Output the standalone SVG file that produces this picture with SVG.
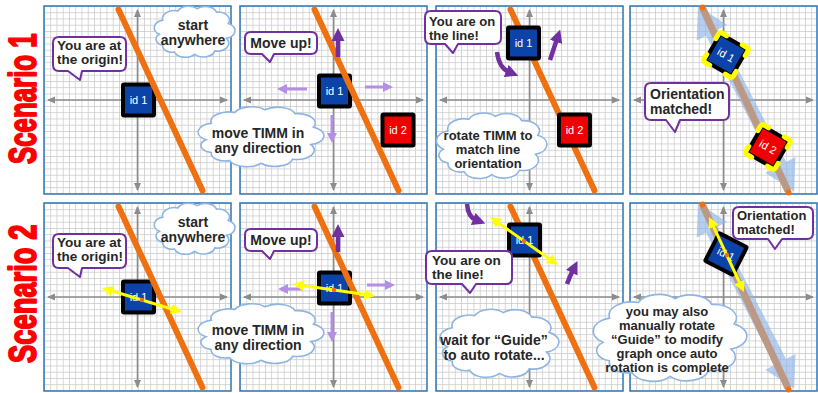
<svg xmlns="http://www.w3.org/2000/svg" width="818" height="393" viewBox="0 0 818 393">
<defs>
<style>
.lbl{font-family:"Liberation Sans",Arial,sans-serif;font-weight:bold;font-size:13.5px;fill:#262626}
.big{font-size:14px}
.sm{font-size:13px}
.mid{text-anchor:middle}
.idt{font-family:"Liberation Sans",Arial,sans-serif;font-size:11px;fill:#fff;text-anchor:middle}
.scn{font-family:"Liberation Sans",Arial,sans-serif;font-weight:bold;font-size:38px;fill:#FF0000;stroke:#FF0000;stroke-width:1.9;stroke-linejoin:round}
.frame{fill:none;stroke:#2E75B6;stroke-width:1.5}
.axis{stroke:#8C8C8C;stroke-width:1.6;marker-start:url(#ax);marker-end:url(#ax)}
.track{stroke:#EE7010;stroke-width:6;stroke-linecap:round}
.tan{stroke:#BC9985;stroke-width:7}
.tip{fill:#EE7010}
.sweep{fill:#8FB4E6;opacity:0.65}
.bubble{fill:#fff;stroke:#7030A0;stroke-width:2;stroke-linejoin:round}
.cloud{fill:#fff;stroke:#8EB4E3;stroke-width:1.6}
.lp{stroke:#B48FE3;stroke-width:3;marker-end:url(#hlp)}
.dp{stroke:#7030A0;stroke-width:4.5;fill:none;marker-end:url(#hdp)}
.guide{stroke:#FFFF00;stroke-width:3;marker-start:url(#hy);marker-end:url(#hy)}
.pivot{fill:#EE7010}
.corner{fill:none;stroke:#FFFF00;stroke-width:5;stroke-linecap:round;stroke-linejoin:round}
</style>
<pattern id="grid" width="6.25" height="6.25" patternUnits="userSpaceOnUse">
<path d="M0,0.4H6.25M0.4,0V6.25" stroke="#C9C9C9" stroke-width="0.8" fill="none"/>
</pattern>
<marker id="ax" markerUnits="userSpaceOnUse" markerWidth="8" markerHeight="8" refX="7" refY="4" orient="auto-start-reverse"><path d="M0,0.5 L8,4 L0,7.5 z" fill="#8C8C8C"/></marker>
<marker id="hlp" markerUnits="userSpaceOnUse" markerWidth="10" markerHeight="10" refX="3" refY="5" orient="auto"><path d="M0,0 L10,5 L0,10 z" fill="#B48FE3"/></marker>
<marker id="hdp" markerUnits="userSpaceOnUse" markerWidth="13" markerHeight="13" refX="3" refY="6.5" orient="auto"><path d="M0,0 L13,6.5 L0,13 z" fill="#7030A0"/></marker>
<marker id="hy" markerUnits="userSpaceOnUse" markerWidth="11" markerHeight="11" refX="3" refY="5.5" orient="auto-start-reverse"><path d="M0,0 L11,5.5 L0,11 z" fill="#FFFF00"/></marker>
<!-- one graph tile: grid, axes, frame -->
<g id="base">
<rect width="187" height="188" fill="#fff"/>
<rect width="187" height="188" fill="url(#grid)"/>
<line class="axis" x1="4" y1="94" x2="183" y2="94"/>
<line class="axis" x1="93.5" y1="4" x2="93.5" y2="184"/>
<rect class="frame" width="187" height="188"/>
</g>
<g id="boxBlue"><rect x="-17.5" y="-17.5" width="35" height="35" rx="3" fill="#000"/><rect x="-13.5" y="-13.5" width="27" height="27" fill="#0B43A8"/><text class="idt" y="4">id 1</text></g>
<g id="boxRed"><rect x="-17.5" y="-17.5" width="35" height="35" rx="3" fill="#000"/><rect x="-13.5" y="-13.5" width="27" height="27" fill="#F00000"/><text class="idt" y="4">id 2</text></g>
<path id="corners" class="corner" d="M-17,-9V-14Q-17,-17 -14,-17H-9M9,-17H14Q17,-17 17,-14V-9M17,9V14Q17,17 14,17H9M-9,17H-14Q-17,17 -17,14V9"/>
<path id="sweepArrow" d="M0,0 L30,-17 L30,-6.5 L179,-6.5 L179,-17 L209,0 L179,17 L179,6.5 L30,6.5 L30,17 Z"/>
<path id="cloudShape" vector-effect="non-scaling-stroke" d="M10,55 A14,14 0 0 1 14,30 A14,14 0 0 1 32,14 A14,14 0 0 1 55,10 A14,14 0 0 1 78,16 A14,14 0 0 1 92,36 A14,14 0 0 1 90,62 A14,14 0 0 1 76,84 A14,14 0 0 1 52,90 A14,14 0 0 1 28,86 A11,11 0 0 1 14,74 A11,11 0 0 1 10,55 Z"/>
</defs>

<!-- row titles, condensed by a horizontal squeeze -->
<g id="titles">
<text class="scn" transform="translate(36,164) rotate(-90) scale(0.68,1)">Scenario 1</text>
<text class="scn" transform="translate(36,363) rotate(-90) scale(0.72,1)">Scenario 2</text>
</g>

<!-- tiles -->
<g id="tiles">
<use href="#base" x="44" y="6"/>
<use href="#base" x="240" y="6"/>
<use href="#base" x="436" y="6"/>
<use href="#base" x="630" y="6"/>
<use href="#base" x="44" y="203"/>
<use href="#base" x="240" y="203"/>
<use href="#base" x="436" y="203"/>
<use href="#base" x="630" y="203"/>
</g>

<!-- Scenario 1 -->
<g id="s1-step1">
<use href="#boxBlue" transform="translate(138.5,100)"/>
<line class="track" x1="118.5" y1="9.5" x2="202.5" y2="190.5"/>
</g>
<g id="s1-step2">
<use href="#boxBlue" transform="translate(334.5,91)"/>
<use href="#boxRed" transform="translate(398,130)"/>
<line class="track" x1="314.5" y1="9.5" x2="398.5" y2="190.5"/>
</g>
<g id="s1-step3">
<line class="track" x1="510.5" y1="9.5" x2="594.5" y2="190.5"/>
<use href="#boxBlue" transform="translate(523.5,43)"/>
<use href="#boxRed" transform="translate(574.5,130)"/>
</g>
<g id="s1-step4">
<use href="#sweepArrow" class="sweep" transform="translate(698,6) rotate(62.6)"/>
<line class="tan" x1="703" y1="9" x2="788" y2="191"/>
<circle class="tip" cx="702.5" cy="7.5" r="3"/>
<circle class="tip" cx="788.5" cy="192.5" r="3"/>
<g transform="translate(726,55) rotate(30)"><use href="#boxBlue"/><use href="#corners"/></g>
<g transform="translate(768,147) rotate(30)"><use href="#boxRed"/><use href="#corners"/></g>
</g>

<!-- Scenario 2 -->
<g id="s2-step1">
<use href="#boxBlue" transform="translate(138.5,297)"/>
<line class="track" x1="118.5" y1="206.5" x2="202.5" y2="387.5"/>
</g>
<g id="s2-step2">
<use href="#boxBlue" transform="translate(334.5,288)"/>
<line class="track" x1="314.5" y1="206.5" x2="398.5" y2="387.5"/>
</g>
<g id="s2-step3">
<line class="track" x1="510.5" y1="206.5" x2="594.5" y2="387.5"/>
<use href="#boxBlue" transform="translate(524.5,240)"/>
</g>
<g id="s2-step4">
<use href="#sweepArrow" class="sweep" transform="translate(698,203) rotate(62.6)"/>
<line class="tan" x1="703" y1="206" x2="788" y2="388"/>
<circle class="tip" cx="702.5" cy="204.5" r="3"/>
<circle class="tip" cx="788.5" cy="389.5" r="3"/>
<use href="#boxBlue" transform="translate(726,254) rotate(27)"/>
</g>

<!-- motion cues and guides -->
<g id="connectors">
<line class="lp" x1="307" y1="89" x2="284" y2="89"/>
<line class="lp" x1="365" y1="87" x2="386" y2="87"/>
<line class="lp" x1="332" y1="115" x2="332" y2="136"/>
<line class="dp" x1="338" y1="57" x2="338" y2="38"/>
<path class="dp" d="M497,52 Q499,68 509,72"/>
<path class="dp" d="M550,60 Q554,48 557,39"/>

<line class="lp" x1="303" y1="289" x2="285" y2="289"/>
<line class="lp" x1="367" y1="285" x2="388" y2="285"/>
<line class="lp" x1="332" y1="312" x2="332" y2="335"/>
<line class="dp" x1="338" y1="252" x2="338" y2="234"/>
<path class="dp" d="M467,204 Q468,217 476,220"/>
<path class="dp" d="M567,284 Q570,276 573,270"/>

<line class="guide" x1="109.7" y1="290.3" x2="174.3" y2="309.7"/>
<circle class="pivot" cx="142" cy="300" r="2.2"/>
<line class="guide" x1="300.9" y1="285.2" x2="367.1" y2="294.8"/>
<circle class="pivot" cx="334" cy="290" r="2.2"/>
<line class="guide" x1="496.5" y1="221.6" x2="551.5" y2="260.4"/>
<circle class="pivot" cx="524" cy="241" r="2.2"/>
<line class="guide" x1="712.4" y1="224.2" x2="740.6" y2="284.8"/>
<circle class="pivot" cx="727" cy="255" r="2.2"/>
</g>

<!-- speech bubbles -->
<g id="bubble-origin-1">
<path class="bubble" d="M59,37 H120 Q126,37 126,43 V65 Q126,71 120,71 H82 L80,80 L68,71 H59 Q53,71 53,65 V43 Q53,37 59,37 Z"/>
<text class="lbl" x="57" y="50">You are at</text>
<text class="lbl" x="57" y="64">the origin!</text>
</g>
<g id="bubble-up-1">
<path class="bubble" d="M251,32 H311 Q317,32 317,38 V48 Q317,54 311,54 H274 L270,62 L262,54 H251 Q245,54 245,48 V38 Q245,32 251,32 Z"/>
<text class="lbl big mid" x="281" y="48">Move up!</text>
</g>
<g id="bubble-online-1">
<path class="bubble" d="M431,11 H495 Q501,11 501,17 V38 Q501,44 495,44 H458 L453,53 L445,44 H431 Q425,44 425,38 V17 Q425,11 431,11 Z"/>
<text class="lbl sm" x="429" y="26">You are on</text>
<text class="lbl sm" x="429" y="40">the line!</text>
</g>
<g id="bubble-match-1">
<path class="bubble" d="M651,83 H723 Q729,83 729,89 V114 Q729,120 723,120 H680 L675,132 L666,120 H651 Q645,120 645,114 V89 Q645,83 651,83 Z"/>
<text class="lbl big" x="650" y="99">Orientation</text>
<text class="lbl big" x="650" y="114">matched!</text>
</g>
<g id="bubble-origin-2">
<path class="bubble" d="M59,234 H120 Q126,234 126,240 V262 Q126,268 120,268 H82 L80,277 L68,268 H59 Q53,268 53,262 V240 Q53,234 59,234 Z"/>
<text class="lbl" x="57" y="247">You are at</text>
<text class="lbl" x="57" y="261">the origin!</text>
</g>
<g id="bubble-up-2">
<path class="bubble" d="M251,229 H311 Q317,229 317,235 V245 Q317,251 311,251 H274 L270,259 L262,251 H251 Q245,251 245,245 V235 Q245,229 251,229 Z"/>
<text class="lbl big mid" x="281" y="245">Move up!</text>
</g>
<g id="bubble-online-2">
<path class="bubble" d="M432,251 H506 Q512,251 512,257 V278 Q512,284 506,284 H476 L470,293 L462,284 H432 Q426,284 426,278 V257 Q426,251 432,251 Z"/>
<text class="lbl" x="432" y="265">You are on</text>
<text class="lbl" x="432" y="279">the line!</text>
</g>
<g id="bubble-match-2">
<path class="bubble" d="M739,207 H807 Q813,207 813,213 V233 Q813,239 807,239 H782 L775,249 L768,239 H739 Q733,239 733,233 V213 Q733,207 739,207 Z"/>
<text class="lbl sm" x="737" y="220">Orientation</text>
<text class="lbl sm" x="737" y="234">matched!</text>
</g>

<!-- thought clouds -->
<g id="cloud-start-1">
<use href="#cloudShape" class="cloud" transform="translate(151,3) scale(0.84,0.57)"/>
<text class="lbl big mid" x="193" y="30">start</text>
<text class="lbl big mid" x="193" y="45">anywhere</text>
</g>
<g id="cloud-move-1">
<use href="#cloudShape" class="cloud" transform="translate(193,103) scale(1.31,0.67)"/>
<text class="lbl big mid" x="258" y="138">move TIMM in</text>
<text class="lbl big mid" x="258" y="153">any direction</text>
</g>
<g id="cloud-rotate-1">
<use href="#cloudShape" class="cloud" transform="translate(432,109) scale(1.15,0.73)"/>
<text class="lbl sm mid" x="488" y="140">rotate TIMM to</text>
<text class="lbl sm mid" x="488" y="154">match line</text>
<text class="lbl sm mid" x="488" y="168">orientation</text>
</g>
<g id="cloud-start-2">
<use href="#cloudShape" class="cloud" transform="translate(151,200) scale(0.84,0.57)"/>
<text class="lbl big mid" x="193" y="227">start</text>
<text class="lbl big mid" x="193" y="242">anywhere</text>
</g>
<g id="cloud-move-2">
<use href="#cloudShape" class="cloud" transform="translate(193,300) scale(1.31,0.67)"/>
<text class="lbl big mid" x="258" y="335">move TIMM in</text>
<text class="lbl big mid" x="258" y="350">any direction</text>
</g>
<g id="cloud-wait-2">
<use href="#cloudShape" class="cloud" transform="translate(435,305) scale(1.24,0.76)"/>
<text class="lbl big mid" x="494" y="345">wait for “Guide”</text>
<text class="lbl big mid" x="494" y="360">to auto rotate...</text>
</g>
<g id="cloud-manual-2">
<use href="#cloudShape" class="cloud" transform="translate(587,289) scale(1.6,0.97)"/>
<text class="lbl sm mid" x="667" y="316">you may also</text>
<text class="lbl sm mid" x="667" y="330">manually rotate</text>
<text class="lbl sm mid" x="667" y="344">“Guide” to modify</text>
<text class="lbl sm mid" x="667" y="358">graph once auto</text>
<text class="lbl sm mid" x="667" y="372">rotation is complete</text>
</g>
</svg>
